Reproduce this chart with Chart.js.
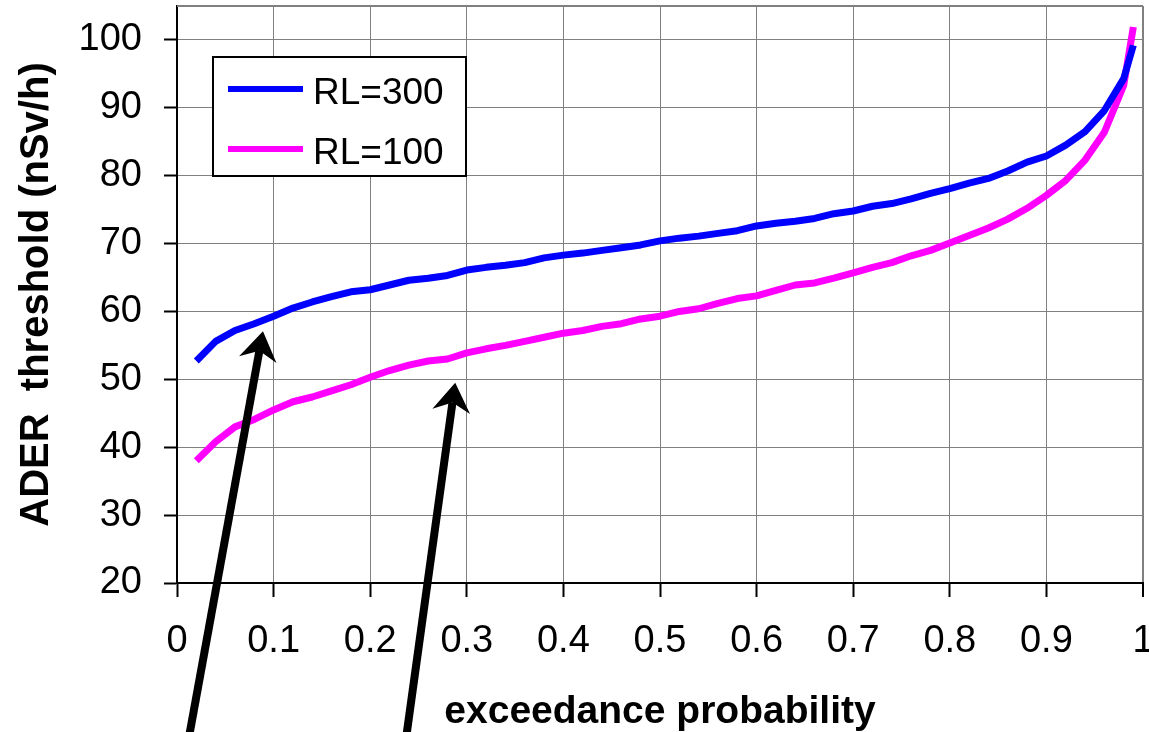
<!DOCTYPE html>
<html>
<head>
<meta charset="utf-8">
<script src="https://cdn.jsdelivr.net/npm/chart.js@4/dist/chart.umd.min.js"></script>
<style>
html,body{margin:0;padding:0;background:#fff;}
#wrap{width:1149px;height:732px;}
</style>
</head>
<body>
<div id="wrap"><canvas id="c" width="1149" height="732"></canvas></div>
<script>
// exceedance probabilities (x values)
const probs = [0.02,0.04,0.06,0.08,0.10,0.12,0.14,0.16,0.18,0.20,
               0.22,0.24,0.26,0.28,0.30,0.32,0.34,0.36,0.38,0.40,
               0.42,0.44,0.46,0.48,0.50,0.52,0.54,0.56,0.58,0.60,
               0.62,0.64,0.66,0.68,0.70,0.72,0.74,0.76,0.78,0.80,
               0.82,0.84,0.86,0.88,0.90,0.92,0.94,0.96,0.98,0.99];
// ADER threshold (nSv/h), RL=300
const rl300 = [52.7,55.6,57.2,58.2,59.3,60.5,61.4,62.2,62.9,63.2,
               63.9,64.6,64.9,65.3,66.1,66.5,66.8,67.2,67.9,68.3,
               68.6,69.0,69.4,69.8,70.4,70.8,71.1,71.5,71.9,72.6,
               73.0,73.3,73.7,74.4,74.8,75.5,75.9,76.6,77.4,78.1,
               78.9,79.6,80.7,82.0,82.9,84.5,86.5,89.6,94.3,99.2];
// ADER threshold (nSv/h), RL=100
const rl100 = [38.0,40.8,43.0,44.1,45.5,46.7,47.4,48.3,49.2,50.3,
               51.3,52.1,52.7,53.0,53.9,54.5,55.0,55.6,56.2,56.8,
               57.2,57.8,58.2,58.9,59.3,60.0,60.4,61.2,61.9,62.3,
               63.1,63.9,64.2,64.9,65.7,66.5,67.2,68.2,69.0,70.1,
               71.2,72.3,73.6,75.2,77.1,79.3,82.3,86.4,93.3,101.9];
const seriesLabels = ['RL=300', 'RL=100'];
const xTitle = 'exceedance probability';
const yTitle = 'ADER  threshold (nSv/h)';
// annotation arrows, in data coordinates (tail -> tip)
const arrows = [
  {from: {x: 0.012, y: -3}, to: {x: 0.089, y: 57.1}},
  {from: {x: 0.237, y: -3}, to: {x: 0.288, y: 49.5}}
];

const FAMILY = "'Liberation Sans', Arial, Helvetica, sans-serif";

const framePlugin = {
  id: 'topFrame',
  beforeDatasetsDraw(chart) {
    const ctx = chart.ctx, ca = chart.chartArea;
    ctx.save();
    ctx.strokeStyle = '#808080';
    ctx.lineWidth = 2;
    ctx.beginPath();
    ctx.moveTo(ca.left, ca.top);
    ctx.lineTo(ca.right, ca.top);
    ctx.stroke();
    ctx.restore();
  }
};

const arrowPlugin = {
  id: 'arrows',
  afterDatasetsDraw(chart) {
    const ctx = chart.ctx, sx = chart.scales.x, sy = chart.scales.y;
    ctx.save();
    ctx.fillStyle = '#000';
    ctx.strokeStyle = '#000';
    arrows.forEach(a => {
      const x0 = sx.getPixelForValue(a.from.x), y0 = sy.getPixelForValue(a.from.y);
      const x1 = sx.getPixelForValue(a.to.x), y1 = sy.getPixelForValue(a.to.y);
      const ang = Math.atan2(y1 - y0, x1 - x0);
      const ux = Math.cos(ang), uy = Math.sin(ang), px = -uy, py = ux;
      const L = 29, W = 19, N = 20;
      ctx.lineWidth = 8;
      ctx.lineCap = 'butt';
      ctx.beginPath();
      ctx.moveTo(x0, y0);
      ctx.lineTo(x1 - ux * N, y1 - uy * N);
      ctx.stroke();
      ctx.beginPath();
      ctx.moveTo(x1, y1);
      ctx.lineTo(x1 - ux * L + px * W, y1 - uy * L + py * W);
      ctx.lineTo(x1 - ux * N, y1 - uy * N);
      ctx.lineTo(x1 - ux * L - px * W, y1 - uy * L - py * W);
      ctx.closePath();
      ctx.fill();
    });
    ctx.restore();
  }
};

const legendPlugin = {
  id: 'boxLegend',
  afterDraw(chart) {
    const ctx = chart.ctx, ca = chart.chartArea;
    const bx = ca.left + 36, by = ca.top + 51, bw = 253, bh = 119;
    ctx.save();
    ctx.fillStyle = '#fff';
    ctx.fillRect(bx, by, bw, bh);
    ctx.lineWidth = 2;
    ctx.strokeStyle = '#000';
    ctx.strokeRect(bx, by, bw, bh);
    chart.data.datasets.forEach((ds, i) => {
      const y = by + 32 + i * 60;
      ctx.strokeStyle = ds.borderColor;
      ctx.lineWidth = 6;
      ctx.lineCap = 'butt';
      ctx.beginPath();
      ctx.moveTo(bx + 15, y);
      ctx.lineTo(bx + 90, y);
      ctx.stroke();
      ctx.fillStyle = '#000';
      ctx.font = '37px ' + FAMILY;
      ctx.textBaseline = 'alphabetic';
      ctx.textAlign = 'left';
      ctx.fillText(ds.label, bx + 100, y + 15);
    });
    ctx.restore();
  }
};

const colors = ['#0000ff', '#ff00ff'];
const series = [rl300, rl100];

new Chart(document.getElementById('c'), {
  type: 'line',
  data: {
    datasets: series.map((vals, i) => ({
      label: seriesLabels[i],
      data: probs.map((p, j) => ({x: p, y: vals[j]})),
      borderColor: colors[i],
      backgroundColor: colors[i],
      borderWidth: 7,
      pointRadius: 0,
      tension: 0,
      borderJoinStyle: 'round',
      borderCapStyle: 'butt',
      fill: false
    }))
  },
  options: {
    responsive: false,
    animation: false,
    devicePixelRatio: 1,
    layout: {padding: {top: 6, right: 6, left: 0, bottom: 0}},
    plugins: {legend: {display: false}, tooltip: {enabled: false}},
    scales: {
      x: {
        type: 'linear', min: 0, max: 1,
        ticks: {
          stepSize: 0.1, autoSkip: false, maxRotation: 0, padding: 22,
          color: '#000', font: {family: FAMILY, size: 38},
          callback: v => String(Math.round(v * 10) / 10)
        },
        grid: {
          color: '#808080',
          lineWidth: c => (c.tick && c.tick.value >= 1) ? 2 : 1,
          tickLength: 14, tickColor: '#000', tickWidth: 2
        },
        border: {color: '#000', width: 2},
        title: {display: true, text: xTitle, color: '#000', padding: 0,
                font: {family: FAMILY, size: 39, weight: 'bold', lineHeight: 1.0}},
        afterFit(s) { s.height = 149; s.paddingLeft = 0; s.paddingRight = 0; }
      },
      y: {
        type: 'linear', min: 20, max: 105,
        ticks: {
          stepSize: 10, padding: 22, color: '#000', autoSkip: false, includeBounds: false,
          font: {family: FAMILY, size: 38}
        },
        grid: {
          color: '#808080', lineWidth: 1,
          tickLength: 13, tickColor: '#000', tickWidth: 2
        },
        border: {color: '#000', width: 2},
        title: {display: true, text: yTitle, color: '#000', padding: {top: 13, bottom: 0},
                font: {family: FAMILY, size: 40, weight: 'bold'}},
        afterFit(s) { s.width = 177; s.paddingTop = 0; s.paddingBottom = 0; }
      }
    }
  },
  plugins: [framePlugin, arrowPlugin, legendPlugin]
});
</script>
</body>
</html>
